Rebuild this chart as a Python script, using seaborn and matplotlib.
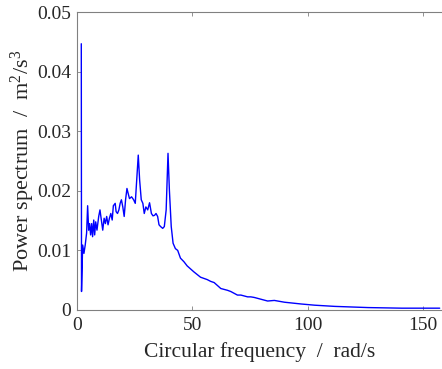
import matplotlib
matplotlib.use("Agg")
import matplotlib.pyplot as plt
import seaborn as sns
import pandas as pd

freq = [1.9, 2.0, 2.5, 3.05, 3.6, 4.2, 4.65, 5.1, 5.5, 5.95, 6.4, 6.8, 7.3, 7.7, 8.15,
        8.7, 9.45, 10.0, 10.6, 11.2, 11.8, 12.35, 12.9, 13.5, 14.1, 14.7, 15.3, 15.8,
        16.6, 17.0, 17.6, 18.2, 18.75, 19.3, 19.9, 20.5, 21.1, 21.7, 22.2, 22.8, 23.7,
        24.6, 25.3, 26.6, 27.2, 27.9, 28.6, 29.2, 29.9, 30.7, 31.5, 32.3, 33.0, 33.7,
        34.3, 35.0, 35.6, 36.3, 37.2, 37.9, 38.7, 39.5, 40.1, 40.9, 41.7, 42.7, 43.7,
        44.9, 46.4, 47.8, 50.7, 53.6, 56.5, 58.0, 59.5, 62.4, 65.3, 66.7, 69.6, 71.1,
        74.0, 75.4, 76.9, 79.8, 82.7, 85.6, 90.0, 97.3, 103.1, 111.8, 126.3, 140.9,
        155.4, 157.3]
power = [0.0447, 0.0031, 0.0109, 0.0095, 0.0109, 0.0129, 0.0175, 0.0134, 0.0145, 0.0126,
         0.0145, 0.0123, 0.0151, 0.0126, 0.0148, 0.0134, 0.0157, 0.0168, 0.0151, 0.0134,
         0.0154, 0.0145, 0.0157, 0.0143, 0.0154, 0.0162, 0.0151, 0.0175, 0.0179, 0.0165,
         0.0162, 0.0168, 0.0179, 0.0185, 0.0173, 0.0157, 0.0185, 0.0204, 0.0196, 0.0187,
         0.0190, 0.0185, 0.0179, 0.0260, 0.0218, 0.0185, 0.0179, 0.0162, 0.0173, 0.0168,
         0.0180, 0.0162, 0.0158, 0.0159, 0.0162, 0.0157, 0.0143, 0.0140, 0.0137, 0.0140,
         0.0168, 0.0263, 0.0201, 0.0140, 0.0112, 0.0103, 0.0100, 0.0087, 0.0081, 0.0074,
         0.0064, 0.0055, 0.0051, 0.0048, 0.0046, 0.0036, 0.0033, 0.0031, 0.0025, 0.0025,
         0.0022, 0.0022, 0.0021, 0.0018, 0.0015, 0.0016, 0.0013, 0.0010, 0.0008, 0.0006,
         0.0004, 0.0003, 0.0003, 0.0003]

xticks = [0, 50, 100, 150]
yticks = [0, 0.01, 0.02, 0.03, 0.04, 0.05]
yticklabels = ["0", "0.01", "0.02", "0.03", "0.04", "0.05"]

sns.set_style("white")
plt.rcParams["font.family"] = ["Liberation Serif", "DejaVu Serif"]
plt.rcParams["mathtext.fontset"] = "custom"
plt.rcParams["mathtext.rm"] = "Liberation Serif"
plt.rcParams["mathtext.it"] = "Liberation Serif:italic"

df = pd.DataFrame({"freq": freq, "power": power})

fig = plt.figure(figsize=(4.42, 3.69), dpi=100)
ax = fig.add_axes([0.174, 0.160, 0.826, 0.807])
sns.lineplot(data=df, x="freq", y="power", ax=ax, color="#0000ff", linewidth=1.0,
             sort=False, estimator=None)

ax.set_xlim(0, 158.3)
ax.set_ylim(0, 0.05)
ax.set_xticks(xticks)
ax.set_xticklabels([str(t) for t in xticks])
ax.set_yticks(yticks)
ax.set_yticklabels(yticklabels)
ax.tick_params(direction="in", length=3, width=0.6, colors="#808080",
               labelcolor="#262626", labelsize=14, top=True, right=False,
               bottom=True, left=True, pad=4)
ax.tick_params(axis="x", pad=5)
for name, s in ax.spines.items():
    s.set_color("#808080")
    s.set_linewidth(0.8)
    s.set_visible(name != "right")

ax.set_xlabel("Circular frequency  /  rad/s", fontsize=15.5, color="#262626", labelpad=6)
ax.set_ylabel(r"Power spectrum  /  m$^2$/s$^3$", fontsize=16, color="#262626", labelpad=0)

fig.savefig("out.png", dpi=100)
